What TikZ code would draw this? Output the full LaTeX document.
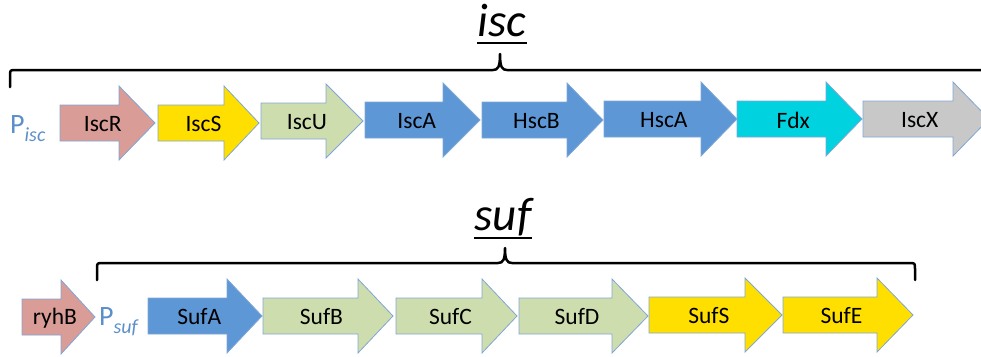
\documentclass[tikz,border=0pt]{standalone}
\usepackage{fontspec}
\setmainfont{Carlito}

\definecolor{genered}{HTML}{D99C97}
\definecolor{geneyellow}{HTML}{FFDF00}
\definecolor{genegreen}{HTML}{CEDDAE}
\definecolor{geneblue}{HTML}{5E97D6}
\definecolor{genecyan}{HTML}{00D2DF}
\definecolor{genegray}{HTML}{C8C8C8}
\definecolor{geneedge}{HTML}{7FA6D4}
\definecolor{promblue}{HTML}{5B8FC9}

\tikzset{
  genebox/.style={draw=geneedge, line width=0.8pt, line join=miter},
  genelabel/.style={font=\fontsize{23.5}{27}\selectfont, inner sep=0pt},
  operon/.style={font=\fontsize{47}{50}\selectfont\itshape, inner sep=0pt, anchor=base},
  promoter/.style={text=promblue, inner sep=0pt, anchor=base west},
  bracket/.style={line width=2.5pt, line cap=round, line join=round}
}

% gene arrow: left x, head x, tip x, middle y, fill, label
\newcommand{\gene}[6]{%
  \draw[genebox, fill=#5] ({#1},{#4-18}) -- ({#2},{#4-18}) -- ({#2},{#4-37})
    -- ({#3},{#4}) -- ({#2},{#4+37}) -- ({#2},{#4+18}) -- ({#1},{#4+18}) -- cycle;
  \node[genelabel] (#6) at ({#1+0.45*(#3-#1)},{#4+1}) {#6};
}

\begin{document}
\begin{tikzpicture}[x=1pt, y=-1pt]
  \useasboundingbox (0,0) rectangle (981,356);

  % Оперон isc
  \node[operon] (isctitle) at (502,36) {isc};
  \draw[line width=2.5pt] ([yshift=-7pt]isctitle.base west) -- ([yshift=-7pt]isctitle.base east);

  \draw[bracket] (10,87) -- (10,76) .. controls (10,70) .. (16,70) -- (493,70)
    .. controls (498,70) and (500,67) .. (500,54)
    .. controls (500,67) and (502,70) .. (507,70) -- (979,70)
    .. controls (985,70) .. (985,76) -- (985,87);

  \node[promoter] (Pisc) at (10,133)
    {{\fontsize{28}{30}\selectfont P}\raisebox{-8pt}{\fontsize{20}{22}\selectfont\itshape isc}};

  \gene{60}{119}{155}{123}{genered}{IscR}
  \gene{158}{224}{259}{123}{geneyellow}{IscS}
  \gene{261}{326}{363}{121}{genegreen}{IscU}
  \gene{365}{443}{480}{120}{geneblue}{IscA}
  \gene{482}{567}{603}{120}{geneblue}{HscB}
  \gene{604}{701}{737}{119}{geneblue}{HscA}
  \gene{737}{826}{862}{119}{genecyan}{Fdx}
  \gene{863}{953}{989}{119}{genegray}{IscX}

  % Оперон suf
  \node[operon] (suftitle) at (503,230) {suf};
  \draw[line width=2.5pt] ([yshift=-8pt]suftitle.base west) -- ([yshift=-8pt]suftitle.base east);

  \draw[bracket] (97,280) -- (97,269) .. controls (97,263) .. (103,263) -- (498,263)
    .. controls (503,263) and (505,260) .. (505,248)
    .. controls (505,260) and (507,263) .. (512,263) -- (909,263)
    .. controls (915,263) .. (915,269) -- (915,280);

  \gene{22}{61}{95}{317}{genered}{ryhB}

  \node[promoter] (Psuf) at (99,325)
    {{\fontsize{28}{30}\selectfont P}\raisebox{-8pt}{\fontsize{20}{22}\selectfont\itshape suf}};

  \gene{148}{227}{262}{316}{geneblue}{SufA}
  \gene{263}{358}{393}{316}{genegreen}{SufB}
  \gene{396}{482}{517}{316}{genegreen}{SufC}
  \gene{519}{612}{648}{316}{genegreen}{SufD}
  \gene{649}{745}{782}{315}{geneyellow}{SufS}
  \gene{783}{877}{913}{315}{geneyellow}{SufE}
\end{tikzpicture}
\end{document}
